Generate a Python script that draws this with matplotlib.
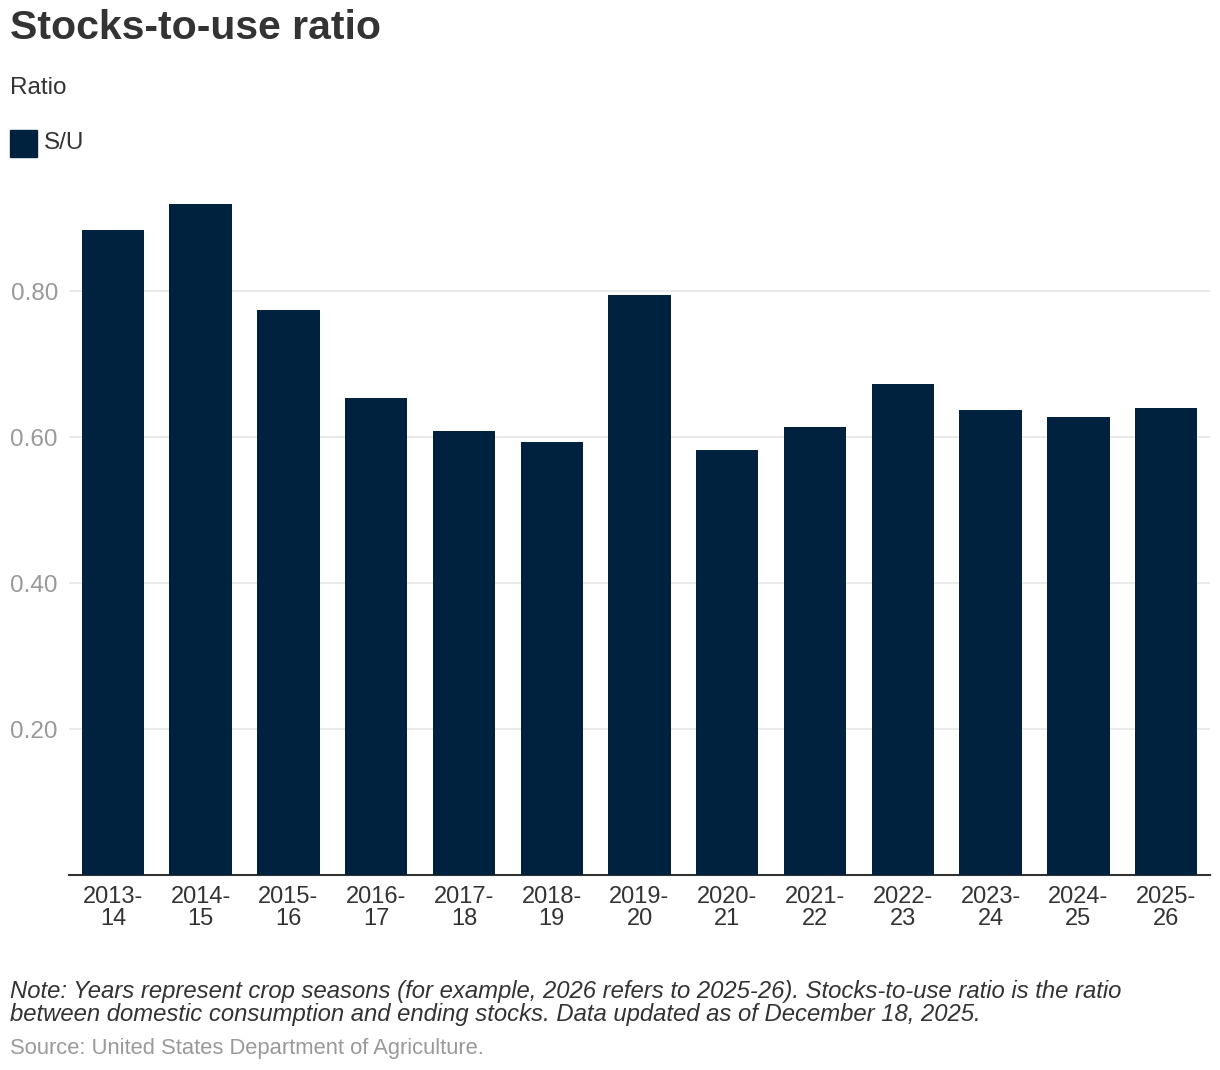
import numpy as np
import matplotlib.pyplot as plt
from matplotlib.patches import Rectangle

plt.rcParams['font.family'] = ['Liberation Sans', 'DejaVu Sans']

# Data
seasons = ["2013-\n14", "2014-\n15", "2015-\n16", "2016-\n17", "2017-\n18", "2018-\n19",
           "2019-\n20", "2020-\n21", "2021-\n22", "2022-\n23", "2023-\n24", "2024-\n25",
           "2025-\n26"]
ratio = [0.884, 0.919, 0.774, 0.653, 0.608, 0.593, 0.795, 0.582, 0.614, 0.673,
         0.637, 0.627, 0.640]
yticks = [0.20, 0.40, 0.60, 0.80]

bar_color = "#00223f"

fig = plt.figure(figsize=(12.2, 10.7), dpi=100)
W, H = 1220, 1070
ax = fig.add_axes([69 / W, 1 - 875 / H, (1210 - 69) / W, (875 - 181.5) / H])

x = np.arange(len(seasons))
ax.bar(x, ratio, width=0.71, color=bar_color, zorder=3)

ax.set_xlim(-0.5, len(seasons) - 0.5)
ax.set_ylim(0, 0.95)

# Grid & spines
ax.set_yticks(yticks)
ax.set_yticklabels([f"{v:.2f}" for v in yticks])
ax.yaxis.grid(True, color="#e6e6e6", linewidth=1.2, zorder=0)
for s in ["top", "right", "left"]:
    ax.spines[s].set_visible(False)
ax.spines["bottom"].set_color("#333333")
ax.spines["bottom"].set_linewidth(1.5)

ax.set_xticks(x)
ax.set_xticklabels(seasons, linespacing=1.0)
ax.tick_params(axis="x", length=0, labelsize=17, colors="#333333", pad=8)
ax.tick_params(axis="y", length=0, labelsize=17.5, colors="#999999", pad=8)

# Titles
fig.text(10 / W, 1 - 9 / H, "Stocks-to-use ratio", fontsize=29.5, fontweight="bold",
         color="#333333", va="top", ha="left")
fig.text(10 / W, 1 - 77 / H, "Ratio", fontsize=17.5, color="#333333", va="top", ha="left")

# Legend
fig.patches.append(Rectangle((10 / W, 1 - 157 / H), 27 / W, 27 / H,
                             transform=fig.transFigure, color=bar_color))
fig.text(44 / W, 1 - 143 / H, "S/U", fontsize=17.5, color="#333333", va="center", ha="left")

# Notes
note = ("Note: Years represent crop seasons (for example, 2026 refers to 2025-26). "
        "Stocks-to-use ratio is the ratio\nbetween domestic consumption and ending stocks. "
        "Data updated as of December 18, 2025.")
fig.text(10 / W, 1 - 980 / H, note, fontsize=17.2, style="italic", color="#333333",
         va="top", ha="left", linespacing=1.0)
fig.text(10 / W, 1 - 1038 / H, "Source: United States Department of Agriculture.",
         fontsize=15.8, color="#999999", va="top", ha="left")

plt.savefig("out.png", dpi=100)
